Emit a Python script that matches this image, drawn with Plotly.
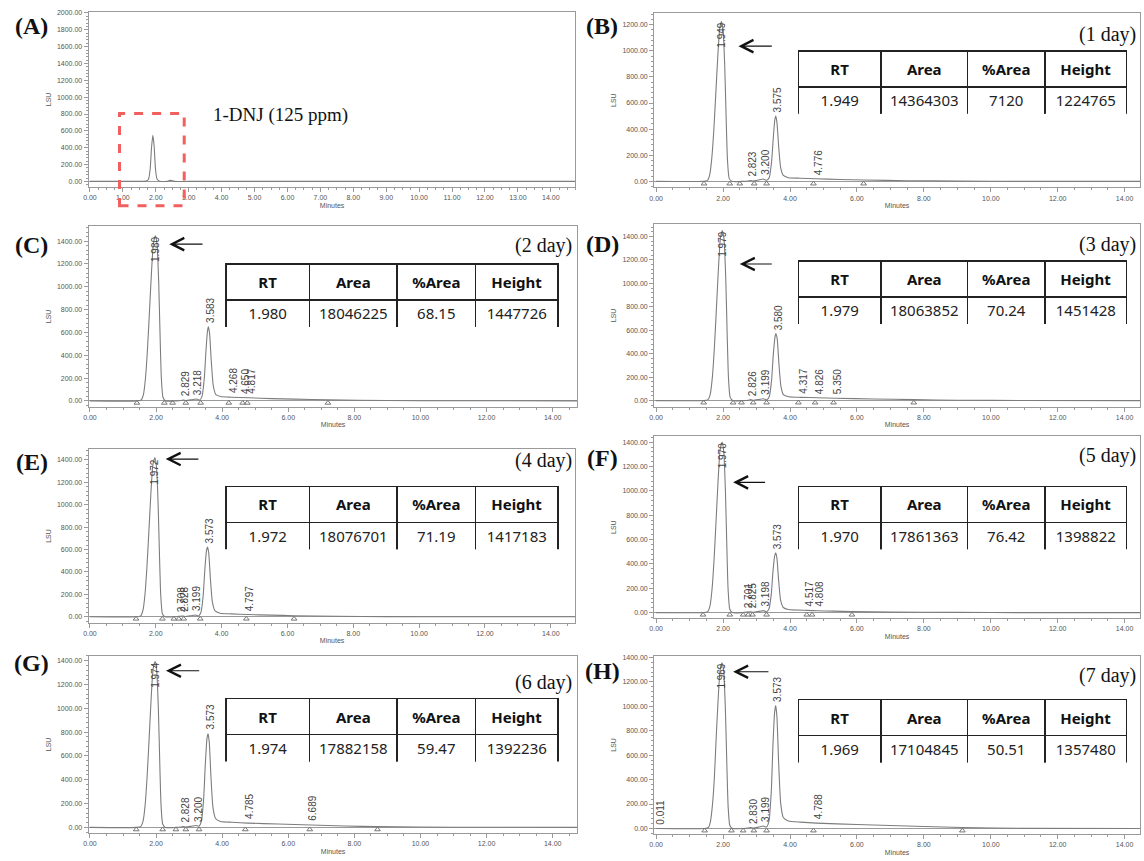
import numpy as np
import plotly.graph_objects as go

W, H = 1144, 861

# ---------------- data (time in minutes, signal in LSU) ----------------
a_time = [0.0, 1.50, 1.70, 1.78, 1.83, 1.87, 1.91, 1.95, 1.99, 2.04, 2.12, 2.35, 2.43, 2.48, 2.56, 3.0, 14.8]
a_lsu = [0, 0, 3, 25, 150, 400, 548, 420, 150, 25, 2, 0, 12, 10, 0, 0, 0]

b_time = [0.0, 1.40, 1.53, 1.60, 1.66, 1.72, 1.78, 1.84, 1.90, 1.949, 2.00, 2.05, 2.09, 2.13, 2.18, 2.26,
          2.60, 2.75, 2.823, 2.90, 3.05, 3.200, 3.30, 3.38, 3.45, 3.50, 3.545, 3.575, 3.61, 3.66, 3.72, 3.80,
          3.95, 4.30, 4.776, 5.50, 6.20, 7.50, 9.0, 11.0, 15.0]
b_lsu = [0, 0, 7, 50, 170, 380, 660, 950, 1170, 1225, 1160, 880, 500, 170, 25, 0,
         0, 3, 7, 3, 10, 18, 8, 30, 150, 330, 470, 500, 450, 270, 105, 45,
         28, 24, 20, 14, 10, 5, 2, 0, 0]

c_time = [0.0, 1.42, 1.55, 1.62, 1.68, 1.74, 1.80, 1.86, 1.92, 1.980, 2.03, 2.08, 2.12, 2.16, 2.21, 2.29,
          2.60, 2.75, 2.829, 2.90, 3.08, 3.218, 3.32, 3.39, 3.46, 3.51, 3.555, 3.583, 3.62, 3.67, 3.73, 3.81,
          3.96, 4.268, 4.817, 5.50, 6.20, 7.20, 9.0, 11.0, 15.0]
c_lsu = [0, 0, 8, 60, 200, 450, 780, 1120, 1380, 1448, 1370, 1040, 590, 200, 30, 0,
         0, 3, 8, 3, 10, 16, 8, 40, 200, 440, 610, 650, 590, 350, 135, 55,
         38, 32, 27, 20, 15, 9, 3, 1, 0]

d_time = [0.0, 1.42, 1.55, 1.62, 1.68, 1.74, 1.80, 1.86, 1.92, 1.979, 2.03, 2.08, 2.12, 2.16, 2.21, 2.29,
          2.60, 2.75, 2.826, 2.90, 3.07, 3.199, 3.31, 3.38, 3.45, 3.50, 3.55, 3.580, 3.62, 3.67, 3.73, 3.81,
          3.96, 4.317, 4.826, 5.350, 6.50, 7.70, 9.0, 11.0, 15.0]
d_lsu = [0, 0, 8, 60, 200, 450, 780, 1120, 1385, 1451, 1370, 1040, 590, 200, 30, 0,
         0, 3, 8, 3, 10, 16, 8, 35, 175, 390, 540, 571, 520, 310, 120, 48,
         33, 28, 24, 20, 14, 8, 3, 1, 0]

e_time = [0.0, 1.40, 1.54, 1.61, 1.67, 1.73, 1.79, 1.85, 1.91, 1.972, 2.02, 2.07, 2.11, 2.15, 2.20, 2.28,
          2.55, 2.708, 2.828, 2.90, 3.07, 3.199, 3.30, 3.37, 3.44, 3.49, 3.54, 3.573, 3.61, 3.66, 3.72, 3.80,
          3.95, 4.30, 4.797, 5.50, 6.20, 7.50, 9.0, 11.0, 15.0]
e_lsu = [0, 0, 8, 58, 195, 440, 760, 1095, 1350, 1417, 1340, 1015, 575, 195, 28, 0,
         0, 5, 7, 3, 10, 16, 8, 38, 190, 420, 590, 622, 565, 335, 130, 52,
         32, 26, 20, 15, 10, 5, 2, 0, 0]

f_time = [0.0, 1.40, 1.54, 1.61, 1.67, 1.73, 1.79, 1.85, 1.91, 1.970, 2.02, 2.07, 2.11, 2.15, 2.20, 2.28,
          2.55, 2.701, 2.825, 2.90, 3.07, 3.198, 3.30, 3.37, 3.44, 3.49, 3.54, 3.573, 3.61, 3.66, 3.72, 3.80,
          3.95, 4.517, 4.808, 5.30, 5.85, 7.00, 9.0, 11.0, 15.0]
f_lsu = [0, 0, 8, 57, 192, 435, 750, 1080, 1335, 1399, 1325, 1000, 570, 190, 28, 0,
         0, 5, 7, 3, 10, 16, 8, 30, 150, 335, 465, 491, 445, 265, 100, 42,
         25, 18, 15, 12, 8, 4, 2, 0, 0]

g_time = [0.0, 1.40, 1.54, 1.61, 1.67, 1.73, 1.79, 1.85, 1.91, 1.974, 2.02, 2.07, 2.11, 2.15, 2.20, 2.28,
          2.60, 2.75, 2.828, 2.90, 3.07, 3.200, 3.30, 3.37, 3.44, 3.49, 3.54, 3.573, 3.61, 3.66, 3.72, 3.80,
          3.95, 4.30, 4.785, 5.70, 6.689, 7.70, 8.70, 11.0, 15.0]
g_lsu = [0, 0, 8, 57, 190, 430, 745, 1075, 1330, 1392, 1315, 995, 565, 190, 28, 0,
         0, 3, 8, 3, 10, 16, 10, 50, 240, 530, 745, 787, 715, 430, 170, 75,
         50, 43, 36, 28, 20, 12, 6, 1, 0]

h_time = [0.0, 1.45, 1.56, 1.62, 1.68, 1.74, 1.79, 1.85, 1.91, 1.969, 2.02, 2.07, 2.11, 2.15, 2.20, 2.28,
          2.60, 2.75, 2.830, 2.90, 3.07, 3.199, 3.30, 3.37, 3.44, 3.49, 3.54, 3.573, 3.61, 3.66, 3.72, 3.80,
          3.95, 4.30, 4.788, 6.00, 7.00, 8.00, 9.15, 11.0, 15.0]
h_lsu = [0, 0, 8, 55, 185, 420, 720, 1045, 1295, 1357, 1280, 970, 550, 185, 27, 0,
         0, 3, 8, 3, 12, 20, 12, 60, 300, 680, 950, 1006, 910, 540, 210, 90,
         62, 52, 44, 32, 24, 16, 8, 1, 0]

# integration markers on the baseline (minutes)
b_marks = [1.43, 2.20, 2.50, 2.93, 3.30, 4.70, 6.20]
c_marks = [1.42, 2.25, 2.50, 2.90, 3.35, 4.20, 4.62, 4.76, 7.20]
d_marks = [1.42, 2.30, 2.55, 2.90, 3.30, 4.25, 4.75, 5.30, 7.70]
e_marks = [1.40, 2.20, 2.55, 2.70, 2.85, 3.35, 4.75, 6.20]
f_marks = [1.40, 2.20, 2.60, 2.75, 2.88, 3.30, 4.50, 4.66, 5.85]
g_marks = [1.40, 2.20, 2.60, 2.90, 3.30, 4.70, 6.65, 8.70]
h_marks = [1.45, 2.25, 2.60, 2.92, 3.30, 4.70, 9.15]

# peak retention-time labels
b_peaks = ["1.949", "2.823", "3.200", "3.575", "4.776"]
c_peaks = ["1.980", "2.829", "3.218", "3.583", "4.268", "4.650", "4.817"]
d_peaks = ["1.979", "2.826", "3.199", "3.580", "4.317", "4.826", "5.350"]
e_peaks = ["1.972", "2.708", "2.828", "3.199", "3.573", "4.797"]
f_peaks = ["1.970", "2.701", "2.825", "3.198", "3.573", "4.517", "4.808"]
g_peaks = ["1.974", "2.828", "3.200", "3.573", "4.785", "6.689"]
h_peaks = ["0.011", "1.969", "2.830", "3.199", "3.573", "4.788"]

# summary tables (1-DNJ peak)
table_header = ["RT", "Area", "%Area", "Height"]
rt_values = ["1.949", "1.980", "1.979", "1.972", "1.970", "1.974", "1.969"]
area_values = ["14364303", "18046225", "18063852", "18076701", "17861363", "17882158", "17104845"]
pct_area_values = ["7120", "68.15", "70.24", "71.19", "76.42", "59.47", "50.51"]
height_values = ["1224765", "1447726", "1451428", "1417183", "1398822", "1392236", "1357480"]

panel_letters = ["(A)", "(B)", "(C)", "(D)", "(E)", "(F)", "(G)", "(H)"]
day_labels = ["", "(1 day)", "(2 day)", "(3 day)", "(4 day)", "(5 day)", "(6 day)", "(7 day)"]
standard_label = "1-DNJ (125 ppm)"

# ---------------- layout geometry (pixels) ----------------
geom = [
    dict(l=84, r=573, t=9, b=184.5, xr=[-0.04, 14.75], yr=[-65, 2012], dx=1, col=0),
    dict(l=652, r=1140, t=10, b=185, xr=[-0.06, 14.46], yr=[-46, 1290], dx=2, col=1),
    dict(l=84, r=575, t=224, b=405, xr=[-0.04, 14.75], yr=[-50, 1531], dx=2, col=0),
    dict(l=652, r=1140, t=222, b=405, xr=[-0.06, 14.46], yr=[-51, 1504], dx=2, col=1),
    dict(l=84, r=573, t=448, b=621.7, xr=[-0.04, 14.75], yr=[-51, 1492], dx=2, col=0),
    dict(l=652, r=1140, t=435, b=617, xr=[-0.06, 14.46], yr=[-43, 1447], dx=2, col=1),
    dict(l=84, r=575, t=655, b=833, xr=[-0.04, 14.75], yr=[-48, 1442], dx=2, col=0),
    dict(l=652, r=1140, t=655, b=834, xr=[-0.06, 14.46], yr=[-46, 1414], dx=2, col=1),
]
letter_pos = [(27, 23), (600, 23), (27, 243), (600, 242), (27, 461), (600, 457), (27, 662), (600, 670)]
day_y = [0, 32, 243, 242, 459, 454, 682, 675]
table_top = [0, 48, 262, 259, 485, 485, 698, 699]
arrows = [None, (2.46, 3.5, 1036), (2.40, 3.45, 1374), (2.50, 3.5, 1165), (2.30, 3.34, 1406),
          (2.30, 3.30, 1070), (2.30, 3.35, 1316), (2.30, 3.40, 1283)]

def px(x):
    return x / W

def py(y):
    return 1 - y / H

series = [(a_time, a_lsu), (b_time, b_lsu), (c_time, c_lsu), (d_time, d_lsu),
          (e_time, e_lsu), (f_time, f_lsu), (g_time, g_lsu), (h_time, h_lsu)]
marks = [[], b_marks, c_marks, d_marks, e_marks, f_marks, g_marks, h_marks]
peaks = [[], b_peaks, c_peaks, d_peaks, e_peaks, f_peaks, g_peaks, h_peaks]

LINE = "#7d7d7d"
AX = "#9a9a9a"
TICKF = dict(size=7, color="#555", family="Liberation Sans")
LABF = dict(size=10, family="Liberation Sans", color="#444")

fig = go.Figure()
annotations = []
shapes = []
layout = dict(width=W, height=H, margin=dict(l=0, r=0, t=0, b=0),
              paper_bgcolor="white", plot_bgcolor="white", showlegend=False)

for i, g in enumerate(geom):
    sfx = "" if i == 0 else str(i + 1)
    xref, yref = "x" + sfx, "y" + sfx
    t, v = series[i]
    fig.add_trace(go.Scatter(x=t, y=v, mode="lines", line=dict(color=LINE, width=1.1, shape="spline", smoothing=0.5),
                             xaxis=xref, yaxis=yref, hoverinfo="skip"))
    if marks[i]:
        fig.add_trace(go.Scatter(x=marks[i], y=[-18] * len(marks[i]), mode="markers",
                                 marker=dict(symbol="triangle-up-open", size=5, color="#777", line=dict(width=1)),
                                 xaxis=xref, yaxis=yref, hoverinfo="skip"))
    layout["xaxis" + sfx] = dict(
        domain=[px(g["l"]), px(g["r"])], range=g["xr"], anchor=yref,
        tickmode="linear", tick0=0, dtick=g["dx"], tickformat=".2f", tickfont=TICKF,
        ticks="outside", ticklen=4, tickcolor=AX, showline=True, linecolor=AX, linewidth=1, mirror=True,
        showgrid=False, zeroline=False,
        minor=dict(dtick=g["dx"] / 4, ticklen=2, ticks="outside", tickcolor=AX),
        title=dict(text="Minutes", font=dict(size=7, color="#555", family="Liberation Sans"), standoff=2),
    )
    layout["yaxis" + sfx] = dict(
        domain=[py(g["b"]), py(g["t"])], range=g["yr"], anchor=xref,
        tickmode="linear", tick0=0, dtick=200, tickformat=".2f", tickfont=TICKF,
        ticks="outside", ticklen=4, tickcolor=AX, showline=True, linecolor=AX, linewidth=1, mirror=True,
        showgrid=False, zeroline=True, zerolinecolor=AX, zerolinewidth=1,
        minor=dict(dtick=40, ticklen=2, ticks="outside", tickcolor=AX),
        title=dict(text="LSU", font=dict(size=7, color="#555", family="Liberation Sans"), standoff=4),
    )
    lx, ly = letter_pos[i]
    annotations.append(dict(text="<b>" + panel_letters[i] + "</b>", x=px(lx), y=py(ly), xref="paper", yref="paper",
                            showarrow=False, xanchor="center", yanchor="middle",
                            font=dict(size=24, family="Liberation Serif", color="#111")))
    if i == 0:
        continue
    right_edge = 1138 if g["col"] == 1 else 571
    annotations.append(dict(text=day_labels[i], x=px(right_edge), y=py(day_y[i]), xref="paper", yref="paper",
                            showarrow=False, xanchor="right", yanchor="middle",
                            font=dict(size=20, family="Liberation Serif", color="#111")))
    hx, tx, ay = arrows[i]
    annotations.append(dict(text="", x=hx, y=ay, ax=tx, ay=ay, xref=xref, yref=yref, axref=xref, ayref=yref,
                            showarrow=True, arrowhead=5, arrowsize=2.2, arrowwidth=1.1, arrowcolor="#111"))
    for k, lab in enumerate(peaks[i]):
        rt = float(lab)
        yv = float(np.interp(rt, t, v))
        if rt < 0.5:
            annotations.append(dict(text=lab, x=rt + 0.12, y=15, xref=xref, yref=yref, showarrow=False,
                                    textangle=-90, xanchor="center", yanchor="bottom", font=LABF))
        elif 1.9 < rt < 2.1:
            annotations.append(dict(text=lab, x=rt, y=yv + 5, xref=xref, yref=yref, showarrow=False,
                                    textangle=-90, xanchor="center", yanchor="top", font=LABF))
        else:
            annotations.append(dict(text=lab, x=rt + 0.06, y=yv + 15, xref=xref, yref=yref, showarrow=False,
                                    textangle=-90, xanchor="center", yanchor="bottom", font=LABF))
    j = i - 1
    tt = table_top[i]
    tl, tr = (797, 1127) if g["col"] == 1 else (222, 556)
    fig.add_trace(go.Table(
        domain=dict(x=[px(tl), px(tr)], y=[py(tt + 64), py(tt)]),
        columnwidth=[83, 87, 78, 82],
        header=dict(values=["<b>" + h + "</b>" for h in table_header], height=30, align="center",
                    font=dict(size=15, family="Noto Sans", color="#111"),
                    line=dict(color="#222", width=1.5), fill=dict(color="white")),
        cells=dict(values=[[rt_values[j]], [area_values[j]], [pct_area_values[j]], [height_values[j]]],
                   height=29, align="center", font=dict(size=15, family="Noto Sans", color="#222"),
                   line=dict(color="#222", width=1.5), fill=dict(color="white")),
    ))

annotations.append(dict(text=standard_label, x=px(277), y=py(112), xref="paper", yref="paper", showarrow=False,
                        xanchor="center", yanchor="middle", font=dict(size=19, family="Liberation Serif", color="#111")))
shapes.append(dict(type="rect", xref="paper", yref="paper", x0=px(115), x1=px(180), y0=py(203.5), y1=py(111),
                   line=dict(color="#f0605f", width=3, dash="dash"), fillcolor="rgba(0,0,0,0)"))

layout["annotations"] = annotations
layout["shapes"] = shapes
fig.update_layout(**layout)
fig.write_html("out.html", config={"displayModeBar": False},
               post_script="document.body.style.margin='0';document.body.style.overflow='hidden';"
                           "document.documentElement.style.overflow='hidden';")
